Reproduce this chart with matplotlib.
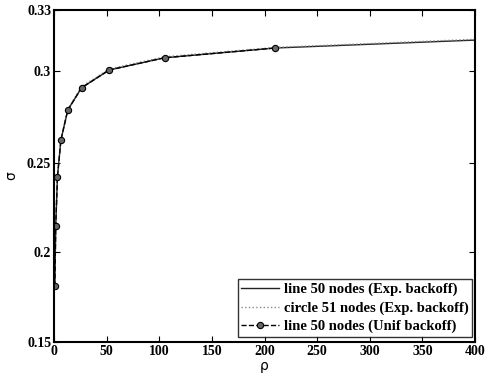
import numpy as np
import matplotlib
matplotlib.use("Agg")
import matplotlib.pyplot as plt

# rho values (x) and sigma values (y)
rho = [0.82, 1.64, 3.28, 6.56, 13.1, 26.2, 52.5, 105, 210, 400]
sigma_line_exp = [0.1811, 0.2146, 0.2423, 0.2625, 0.2788, 0.2909, 0.3005, 0.3065, 0.3113, 0.3152]
sigma_circle_exp = [0.1811, 0.2148, 0.2425, 0.2628, 0.2792, 0.2915, 0.3010, 0.3070, 0.3116, 0.3156]
rho_unif = [0.82, 1.64, 3.28, 6.56, 13.1, 26.2, 52.5, 105, 210]
sigma_line_unif = [0.1811, 0.2146, 0.2423, 0.2625, 0.2788, 0.2909, 0.3005, 0.3065, 0.3113]

labels = ["line 50 nodes (Exp. backoff)",
          "circle 51 nodes (Exp. backoff)",
          "line 50 nodes (Unif backoff)"]

xticks = [0, 50, 100, 150, 200, 250, 300, 350, 400]
yticks = [0.15, 0.2, 0.25, 0.3, 0.33]
ytick_labels = ["0.15", "0.2", "0.25", "0.3", "0.33"]

# the y axis in the original is slightly uneven between ticks
y_knots = [0.15, 0.2, 0.25, 0.3, 0.33]
p_knots = [0, 90, 179, 271, 332]

def fwd(y):
    return np.interp(y, y_knots, p_knots)

def inv(p):
    return np.interp(p, p_knots, y_knots)

plt.rcParams['font.family'] = ['Liberation Serif', 'DejaVu Serif']

fig = plt.figure(figsize=(4.88, 3.76), dpi=100)
ax = fig.add_axes([54 / 488, 34 / 376, 421 / 488, 332 / 376])
ax.set_yscale('function', functions=(fwd, inv))

ax.plot(rho, sigma_line_exp, '-', color='#222222', lw=1.0, label=labels[0])
ax.plot(rho, sigma_circle_exp, ':', color='#888888', lw=1.0, label=labels[1])
ax.plot(rho_unif, sigma_line_unif, '--', color='black', lw=1.0,
        marker='o', ms=4.5, mfc='#666666', mec='black', mew=0.8,
        label=labels[2])

ax.set_xlim(0, 400)
ax.set_ylim(0.15, 0.33)
ax.set_xticks(xticks)
ax.set_xticklabels([str(t) for t in xticks], fontweight='bold', fontsize=10)
ax.set_yticks(yticks)
ax.set_yticklabels(ytick_labels, fontweight='bold', fontsize=10)
ax.minorticks_off()
ax.tick_params(direction='in', length=4, width=0.8, top=True, right=True, pad=2)
for s in ax.spines.values():
    s.set_linewidth(1.5)

ax.set_xlabel('ρ', fontsize=10, family='DejaVu Sans', labelpad=1)
ax.set_ylabel('σ', fontsize=10, family='DejaVu Sans', labelpad=6)

leg = ax.legend(loc='lower right', bbox_to_anchor=(0.993, 0.015),
                prop={'weight': 'bold', 'size': 10.5}, frameon=True,
                fancybox=False, edgecolor='black', borderpad=0.25,
                labelspacing=0.35, handlelength=2.6, handletextpad=0.3,
                borderaxespad=0)
leg.get_frame().set_linewidth(1.0)

fig.savefig('out.png', dpi=100)
